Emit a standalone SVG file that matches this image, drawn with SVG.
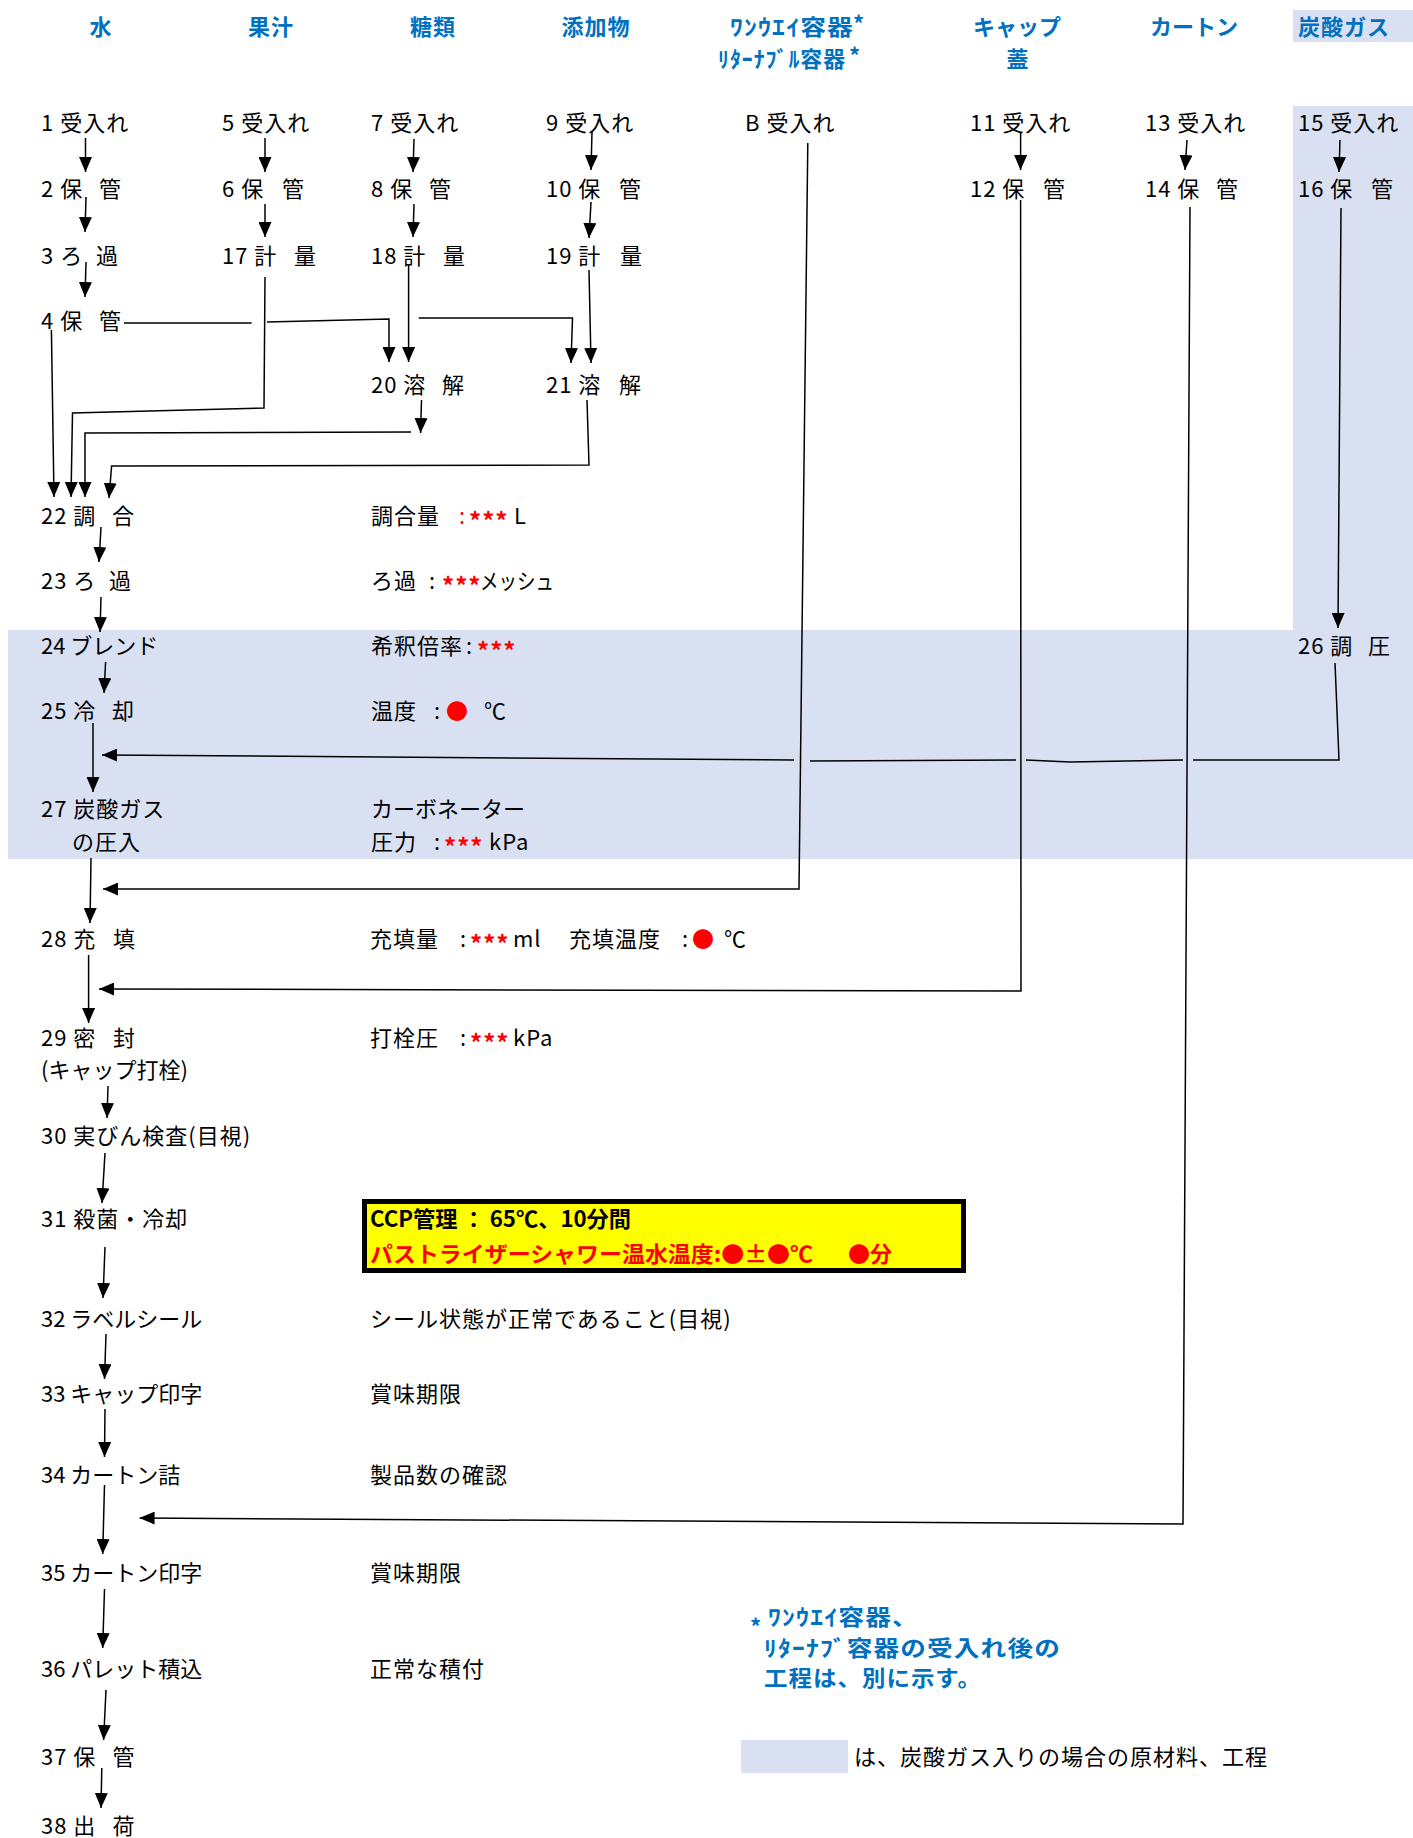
<svg xmlns="http://www.w3.org/2000/svg" width="1413" height="1838" viewBox="0 0 1413 1838">
<style>
text{font-family:"Noto Sans CJK JP","Noto Sans",sans-serif;font-size:22px;letter-spacing:1px;fill:#000}
.h{font-weight:bold;fill:#0070C0}
.r{fill:#FF0000}
.s{font-size:24px;font-weight:bold}
.k{letter-spacing:0}
.b{font-weight:bold;letter-spacing:0}
.ln{stroke:#000;stroke-width:1.5;fill:none}
.a{marker-end:url(#ah)}
.bg{fill:#D9E0F2}
</style>
<defs>
<marker id="ah" viewBox="0 0 15 13" refX="15" refY="6.5" markerWidth="15" markerHeight="13" markerUnits="userSpaceOnUse" orient="auto"><path d="M0,0 L15,6.5 L0,13 z" fill="#000"/></marker>
</defs>
<rect width="1413" height="1838" fill="#fff"/>
<g id="shading">
<rect class="bg" x="1293" y="10" width="120" height="32"/>
<rect class="bg" x="1293" y="106" width="120" height="526"/>
<rect class="bg" x="8" y="630" width="1405" height="229"/>
</g>
<g id="headers">
<text class="h" x="101" y="35" text-anchor="middle">水</text>
<text class="h" x="271" y="35" text-anchor="middle">果汁</text>
<text class="h" x="433" y="35" text-anchor="middle">糖類</text>
<text class="h" x="596" y="35" text-anchor="middle">添加物</text>
<text class="h" x="730" y="35" textLength="124" lengthAdjust="spacingAndGlyphs">ﾜﾝｳｴｲ容器</text>
<text class="h" x="853" y="32" font-size="22">*</text>
<text class="h" x="718" y="67" textLength="128" lengthAdjust="spacingAndGlyphs">ﾘﾀｰﾅﾌﾞﾙ容器</text>
<text class="h" x="849" y="64" font-size="22">*</text>
<text class="h k" x="1017" y="35" text-anchor="middle">キャップ</text>
<text class="h" x="1018" y="67" text-anchor="middle">蓋</text>
<text class="h k" x="1194" y="35" text-anchor="middle">カートン</text>
<text class="h" x="1298" y="35">炭酸ガス</text>
</g>
<g id="connectors">
<path class="ln a" d="M85.5,138 L85.5,172"/>
<path class="ln a" d="M86,197 L85,232"/>
<path class="ln a" d="M86,262 L85,297"/>
<path class="ln a" d="M265,138 L265,172"/>
<path class="ln a" d="M265,204 L265,237"/>
<path class="ln a" d="M414,139 L413,172"/>
<path class="ln a" d="M414,204 L413,237"/>
<path class="ln a" d="M592,132 L591,170"/>
<path class="ln a" d="M591,202 L589,238"/>
<path class="ln a" d="M1020.6,132 L1020.6,170"/>
<path class="ln a" d="M1187,140 L1185,170"/>
<path class="ln a" d="M1340,140 L1339,172"/>
<path class="ln a" d="M1341,208 L1338,628"/>
<path class="ln" d="M124,323 L251.6,323"/>
<path class="ln a" d="M267,322 L389,319 L389,362"/>
<path class="ln a" d="M418.7,318 L572.5,318 L571,363"/>
<path class="ln a" d="M408.6,265 L408.6,362"/>
<path class="ln a" d="M589,270 L591,363"/>
<path class="ln a" d="M265,277 L264,408 L72.5,413 L71,497"/>
<path class="ln a" d="M421.5,400 L420.6,433"/>
<path class="ln a" d="M411,432 L85,433 L85,497"/>
<path class="ln a" d="M587,400 L589,465 L111.6,466 L109,498"/>
<path class="ln a" d="M51.4,330 L54,497"/>
<path class="ln a" d="M101,527 L99,562"/>
<path class="ln a" d="M101,597 L100,632"/>
<path class="ln a" d="M105.6,662 L104,693"/>
<path class="ln a" d="M93,723 L93,792"/>
<path class="ln" d="M1335,663 L1339,760 L1193,760"/>
<path class="ln" d="M1183,760 L1070,762 L1026,760"/>
<path class="ln" d="M1016,760 L810,761"/>
<path class="ln a" d="M794,760 L102,755"/>
<path class="ln a" d="M91,858 L90,923"/>
<path class="ln a" d="M807.8,143 L799,889 L103,889"/>
<path class="ln a" d="M88.6,955 L88.6,1023"/>
<path class="ln a" d="M1020.6,200 L1021,991 L99,989"/>
<path class="ln a" d="M108,1086 L107,1118"/>
<path class="ln a" d="M105,1153 L102,1203"/>
<path class="ln a" d="M105,1247 L103,1298"/>
<path class="ln a" d="M106,1334 L104.5,1379"/>
<path class="ln a" d="M105,1409 L104.5,1457"/>
<path class="ln a" d="M104.5,1485 L102.7,1554"/>
<path class="ln a" d="M1190,207 L1183,1524 L139.6,1518"/>
<path class="ln a" d="M104.5,1589 L102.7,1648"/>
<path class="ln a" d="M106,1690 L103.6,1740"/>
<path class="ln a" d="M101.8,1768 L101,1808"/>
</g>
<g id="n1"><text x="41" y="131">1 受入れ</text></g>
<g id="n2"><text x="41" y="197">2 保 <tspan x="99">管</tspan></text></g>
<g id="n3"><text x="41" y="264">3 ろ <tspan x="96">過</tspan></text></g>
<g id="n4"><text x="41" y="329">4 保 <tspan x="99">管</tspan></text></g>
<g id="n5"><text x="222" y="131">5 受入れ</text></g>
<g id="n6"><text x="222" y="197">6 保 <tspan x="282">管</tspan></text></g>
<g id="n17"><text x="222" y="264">17 計 <tspan x="294">量</tspan></text></g>
<g id="n7"><text x="371" y="131">7 受入れ</text></g>
<g id="n8"><text x="371" y="197">8 保 <tspan x="429">管</tspan></text></g>
<g id="n18"><text x="371" y="264">18 計 <tspan x="443">量</tspan></text></g>
<g id="n20"><text x="371" y="393">20 溶 <tspan x="442">解</tspan></text></g>
<g id="n9"><text x="546" y="131">9 受入れ</text></g>
<g id="n10"><text x="546" y="197">10 保 <tspan x="619">管</tspan></text></g>
<g id="n19"><text x="546" y="264">19 計 <tspan x="620">量</tspan></text></g>
<g id="n21"><text x="546" y="393">21 溶 <tspan x="619">解</tspan></text></g>
<g id="nB"><text x="745" y="131">B 受入れ</text></g>
<g id="n11"><text x="970" y="131">11 受入れ</text></g>
<g id="n12"><text x="970" y="197">12 保 <tspan x="1043">管</tspan></text></g>
<g id="n13"><text x="1145" y="131">13 受入れ</text></g>
<g id="n14"><text x="1145" y="197">14 保 <tspan x="1216">管</tspan></text></g>
<g id="n15"><text x="1298" y="131">15 受入れ</text></g>
<g id="n16"><text x="1298" y="197">16 保 <tspan x="1371">管</tspan></text></g>
<g id="n26"><text x="1298" y="654">26 調 <tspan x="1368">圧</tspan></text></g>
<g id="n22"><text x="41" y="524">22 調 <tspan x="112">合</tspan></text>
<text x="371" y="524">調合量<tspan class="r" x="459">:</tspan><tspan class="r s" x="469" y="530">***</tspan><tspan x="514" y="524">L</tspan></text></g>
<g id="n23"><text x="41" y="589">23 ろ <tspan x="109">過</tspan></text>
<text x="371" y="589">ろ過<tspan x="429">:</tspan><tspan class="r s" x="442" y="595">***</tspan></text>
<text class="k" x="480" y="589" textLength="74" lengthAdjust="spacingAndGlyphs">メッシュ</text></g>
<g id="n24"><text class="k" x="41" y="654">24 ブレンド</text>
<text x="371" y="654">希釈倍率<tspan x="466">:</tspan><tspan class="r s" x="477" y="660">***</tspan></text></g>
<g id="n25"><text x="41" y="719">25 冷 <tspan x="112">却</tspan></text>
<text x="371" y="719">温度<tspan x="434">:</tspan><tspan class="r" x="446">●</tspan><tspan x="484">℃</tspan></text></g>
<g id="n27"><text x="41" y="817">27 炭酸ガス</text><text x="72" y="850">の圧入</text>
<text class="k" x="371" y="817">カーボネーター</text>
<text x="371" y="850">圧力<tspan x="434">:</tspan><tspan class="r s" x="444" y="856">***</tspan><tspan x="489" y="850">kPa</tspan></text></g>
<g id="n28"><text x="41" y="947">28 充 <tspan x="113">填</tspan></text>
<text x="370" y="947">充填量<tspan x="460">:</tspan><tspan class="r s" x="470" y="953">***</tspan><tspan x="513" y="947">ml</tspan><tspan x="569">充填温度</tspan><tspan x="682">:</tspan><tspan class="r" x="692">●</tspan><tspan x="724">℃</tspan></text></g>
<g id="n29"><text x="41" y="1046">29 密 <tspan x="113">封</tspan></text><text class="k" x="41" y="1078">(キャップ打栓)</text>
<text x="370" y="1046">打栓圧<tspan x="460">:</tspan><tspan class="r s" x="470" y="1052">***</tspan><tspan x="513" y="1046">kPa</tspan></text></g>
<g id="n30"><text x="41" y="1144">30 実びん検査(目視)</text></g>
<g id="n31"><text x="41" y="1227">31 殺菌・冷却</text></g>
<g id="ccp"><rect x="364.5" y="1201.5" width="599" height="69" fill="#FFFF00" stroke="#000" stroke-width="5"/>
<text class="b" x="370" y="1227" textLength="261" lengthAdjust="spacingAndGlyphs">CCP管理 ： 65℃、10分間</text>
<text class="b r" x="370" y="1262" textLength="443" lengthAdjust="spacingAndGlyphs">パストライザーシャワー温水温度:●±●℃</text>
<text class="b r" x="848" y="1262">●分</text></g>
<g id="n32"><text class="k" x="41" y="1327">32 ラベルシール</text><text x="370" y="1327">シール状態が正常であること(目視)</text></g>
<g id="n33"><text class="k" x="41" y="1402">33 キャップ印字</text><text x="370" y="1402">賞味期限</text></g>
<g id="n34"><text class="k" x="41" y="1483">34 カートン詰</text><text x="370" y="1483">製品数の確認</text></g>
<g id="n35"><text class="k" x="41" y="1581">35 カートン印字</text><text x="370" y="1581">賞味期限</text></g>
<g id="n36"><text class="k" x="41" y="1677">36 パレット積込</text><text x="370" y="1677">正常な積付</text></g>
<g id="n37"><text x="41" y="1765">37 保 <tspan x="112.6">管</tspan></text></g>
<g id="n38"><text x="41" y="1834">38 出 <tspan x="112.6">荷</tspan></text></g>
<g id="footnote">
<text class="h" x="750" y="1635" font-size="30">*</text>
<text class="h" x="768" y="1625" textLength="151" lengthAdjust="spacingAndGlyphs">ﾜﾝｳｴｲ容器、</text>
<text class="h" x="764" y="1656" textLength="297" lengthAdjust="spacingAndGlyphs">ﾘﾀｰﾅﾌﾞ容器の受入れ後の</text>
<text class="h" x="764" y="1686" textLength="218" lengthAdjust="spacingAndGlyphs">工程は、別に示す。</text>
</g>
<g id="legend">
<rect class="bg" x="741" y="1740" width="107" height="33"/>
<text x="854" y="1765">は、炭酸ガス入りの場合の原材料、工程</text>
</g>
</svg>
